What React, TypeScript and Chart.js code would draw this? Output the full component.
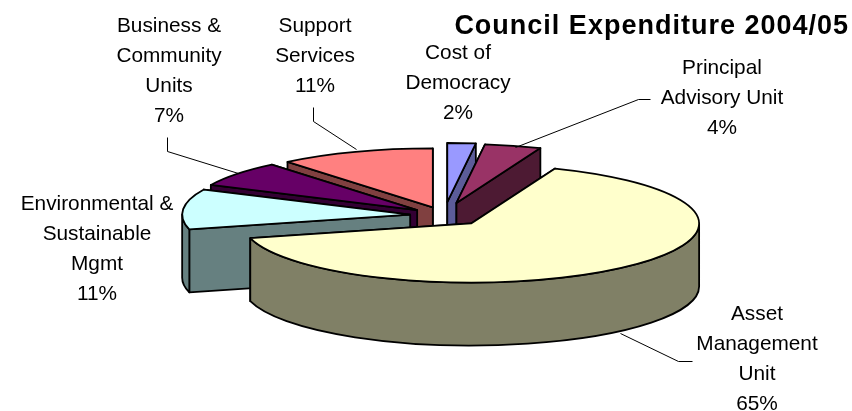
import React, { useEffect, useRef } from "react";
import { Chart, registerables } from "chart.js";

Chart.register(...registerables);

// Expenditure shares, clockwise from twelve o'clock
const categories = [
  "Cost of Democracy",
  "Principal Advisory Unit",
  "Asset Management Unit",
  "Environmental & Sustainable Mgmt",
  "Business & Community Units",
  "Support Services",
];
const shares = [2, 4, 65, 11, 7, 11];
const topColors = ["#9999FF", "#993366", "#FFFFCC", "#CCFFFF", "#660066", "#FF8080"];
const wallColors = ["#5C5C99", "#4D1A33", "#808066", "#668080", "#330033", "#804040"];
const explodeOffsets = [52, 50, 41, 34, 34, 33];

// Wrapped label text for each category
const labelLines = [
  ["Cost of", "Democracy"],
  ["Principal", "Advisory Unit"],
  ["Asset", "Management", "Unit"],
  ["Environmental &", "Sustainable", "Mgmt"],
  ["Business &", "Community", "Units"],
  ["Support", "Services"],
];
const labelAnchors = [
  [458, 53],
  [722, 68],
  [757, 314],
  [97, 204],
  [169, 26],
  [315, 26],
];
const leaderLines = [
  null,
  [[650, 99], [638, 99], [515, 147]],
  [[692, 361], [678, 361], [620, 333]],
  null,
  [[167, 137], [167, 151], [238, 173]],
  [[313, 107], [313, 121], [356, 149]],
];

const chartTitle = "Council Expenditure 2004/05";
const TILT = 0.259;
const DEPTH = 63;
const LINE_STEP = 30.2;
const PAINT_ORDER = [0, 1, 5, 4, 3, 2];
const FONT = '"Liberation Sans", Arial, sans-serif';

// Paints each wedge as an extruded, tilted prism from the arc elements' geometry
const tiltedPie = {
  id: "tiltedPie",
  beforeDatasetsDraw(chart: any) {
    const ctx: CanvasRenderingContext2D = chart.ctx;
    const arcs = chart.getDatasetMeta(0).data;
    ctx.save();
    ctx.lineWidth = 1.8;
    ctx.lineJoin = "round";
    ctx.strokeStyle = "#000";
    for (const i of PAINT_ORDER) {
      const arc = arcs[i];
      const { x, y, startAngle: a, endAngle: b, outerRadius: r } = arc;
      const mid = (a + b) / 2;
      const off = arc.options.offset;
      const cx = x + Math.cos(mid) * off;
      const cy = y + Math.sin(mid) * off * TILT;
      const ry = r * TILT;
      const px = (t: number) => cx + Math.cos(t) * r;
      const py = (t: number) => cy + Math.sin(t) * ry;

      const paint = (fill: string) => {
        ctx.fillStyle = fill;
        ctx.fill();
        ctx.stroke();
      };

      // Cut faces from the apex to each end of the rim, rear face first
      for (const t of [a, b].sort((p, q) => py(p) - py(q))) {
        ctx.beginPath();
        ctx.moveTo(cx, cy);
        ctx.lineTo(px(t), py(t));
        ctx.lineTo(px(t), py(t) + DEPTH);
        ctx.lineTo(cx, cy + DEPTH);
        ctx.closePath();
        paint(wallColors[i]);
      }

      // Outer wall, only over the front half of the rim
      for (let k = -1; k <= 1; k++) {
        const from = Math.max(a, k * 2 * Math.PI);
        const to = Math.min(b, k * 2 * Math.PI + Math.PI);
        if (to <= from) continue;
        ctx.beginPath();
        ctx.ellipse(cx, cy, r, ry, 0, from, to);
        ctx.lineTo(px(to), py(to) + DEPTH);
        ctx.ellipse(cx, cy + DEPTH, r, ry, 0, to, from, true);
        ctx.closePath();
        paint(wallColors[i]);
      }

      // Top face
      ctx.beginPath();
      ctx.moveTo(cx, cy);
      ctx.ellipse(cx, cy, r, ry, 0, a, b);
      ctx.closePath();
      paint(topColors[i]);
    }
    ctx.restore();
    return false;
  },
  afterDraw(chart: any) {
    const ctx: CanvasRenderingContext2D = chart.ctx;
    ctx.save();

    // Leader lines
    ctx.strokeStyle = "#000";
    ctx.lineWidth = 1;
    leaderLines.forEach((pts) => {
      if (!pts) return;
      ctx.beginPath();
      pts.forEach(([px, py], n) => (n ? ctx.lineTo(px + 0.5, py + 0.5) : ctx.moveTo(px + 0.5, py + 0.5)));
      ctx.stroke();
    });

    // Data labels: wrapped category name with the share below it
    ctx.fillStyle = "#000";
    ctx.textAlign = "center";
    ctx.textBaseline = "middle";
    ctx.font = `20.8px ${FONT}`;
    labelLines.forEach((lines, i) => {
      const [lx, ly] = labelAnchors[i];
      [...lines, `${shares[i]}%`].forEach((line, n) => ctx.fillText(line, lx, ly + n * LINE_STEP));
    });

    // Heading
    ctx.font = `bold 27px ${FONT}`;
    (ctx as any).letterSpacing = "1px";
    ctx.textAlign = "right";
    ctx.fillText(chartTitle, 849, 27);
    ctx.restore();
  },
};

export default function App() {
  const ref = useRef<HTMLCanvasElement>(null);
  useEffect(() => {
    const chart = new Chart(ref.current!, {
      type: "pie",
      data: {
        labels: categories,
        datasets: [{ data: shares, backgroundColor: topColors, offset: explodeOffsets, borderWidth: 0 }],
      },
      options: {
        animation: false,
        responsive: false,
        radius: 228,
        layout: { padding: { left: 36, top: 20 } },
        plugins: { legend: { display: false }, tooltip: { enabled: false } },
      } as any,
      plugins: [tiltedPie],
    });
    return () => chart.destroy();
  }, []);
  return (
    <canvas
      ref={ref}
      width={852}
      height={411}
      style={{ position: "absolute", left: 0, top: 0, background: "#fff" }}
    />
  );
}
